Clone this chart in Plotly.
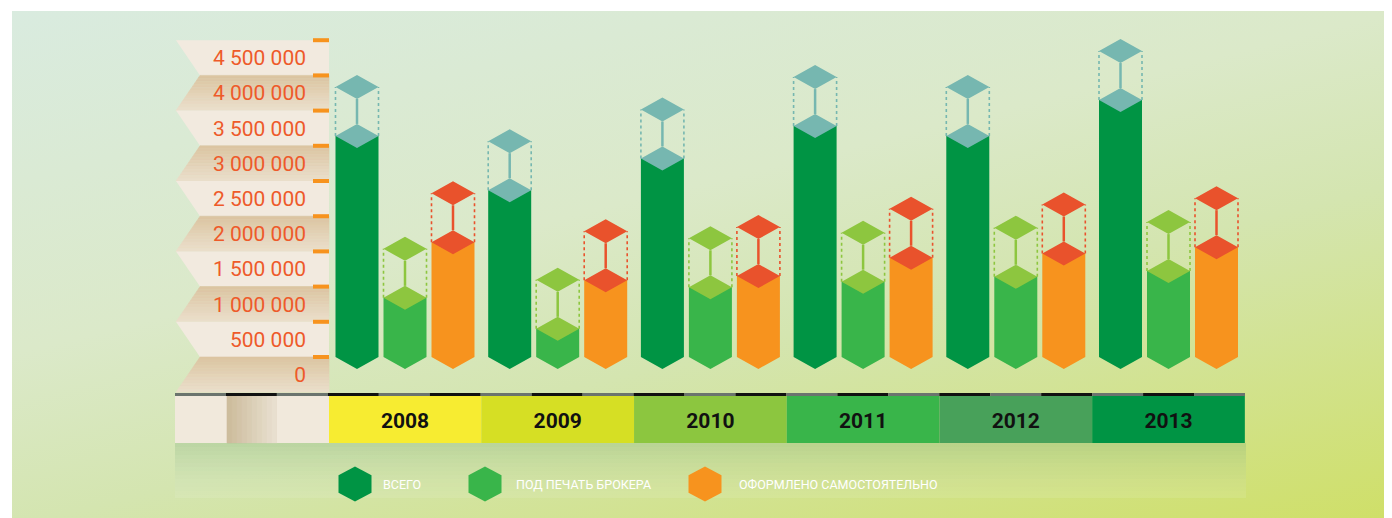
import base64
import plotly.graph_objects as go

# ---------------- data ----------------
years = ["2008", "2009", "2010", "2011", "2012", "2013"]
total = [3140000, 2370000, 2820000, 3280000, 3140000, 3650000]
broker = [840000, 400000, 990000, 1070000, 1140000, 1220000]
self_made = [1630000, 1090000, 1150000, 1410000, 1470000, 1560000]
series_names = ["ВСЕГО", "ПОД ПЕЧАТЬ БРОКЕРА", "ОФОРМЛЕНО САМОСТОЯТЕЛЬНО"]
tick_values = [4500000, 4000000, 3500000, 3000000, 2500000, 2000000, 1500000, 1000000, 500000, 0]
tick_labels = ["4 500 000", "4 000 000", "3 500 000", "3 000 000", "2 500 000",
               "2 000 000", "1 500 000", "1 000 000", "500 000", "0"]
year_colors = ["#f7ec31", "#d6df24", "#8cc63f", "#39b54a", "#48a15a", "#009444"]

# ---------------- geometry / style ----------------
W, H = 1392, 518
OFF = 8                 # page margin of the html body
PX_X = 152.7            # pixels per group
X0 = 405.0 - OFF        # pixel centre of first group (figure px)
Y0 = 357.0 - OFF        # pixel of value 0 (figure px)
PX_V = 70.4 / 1e6       # pixels per value unit
VPP = 1 / PX_V          # value units per pixel

def px2x(px):
    return (px - X0) / PX_X

def X(px):              # screenshot px -> paper
    return (px - OFF) / W

def Y(py):
    return 1 - (py - OFF) / H

def mix(c1, c2, t):
    a = [int(c1[i:i + 2], 16) for i in (1, 3, 5)]
    b = [int(c2[i:i + 2], 16) for i in (1, 3, 5)]
    return "#" + "".join(f"{round(a[k] + (b[k] - a[k]) * t):02x}" for k in range(3))

FONT = "Roboto, Liberation Sans Narrow, DejaVu Sans Condensed, sans-serif"

hw = 21.5 / PX_X          # half bar width (x units)
dd = 12 * VPP             # half diamond height (value units)
gap = 49 * VPP            # ghost cube height
offsets = [-48 / PX_X, 0, 48 / PX_X]
body_colors = ["#009444", "#39b54a", "#f7931e"]
top_colors = ["#76b7b0", "#8dc63f", "#e9522c"]
series = [total, broker, self_made]

fig = go.Figure()

for s, vals in enumerate(series):
    bx, by, dx, dy, lx, ly, cx_, cy_ = [], [], [], [], [], [], [], []
    for i, v in enumerate(vals):
        c = i + offsets[s]
        bx += [c - hw, c + hw, c + hw, c, c - hw, c - hw, None]
        by += [v, v, 0, -dd, 0, v, None]
        for base in (v, v + gap):
            dx += [c - hw, c, c + hw, c, c - hw, None]
            dy += [base, base + dd, base, base - dd, base, None]
        lx += [c - hw, c - hw, None, c + hw, c + hw, None]
        ly += [v, v + gap, None, v, v + gap, None]
        cx_ += [c, c, None]
        cy_ += [v + dd, v + gap - dd, None]
    fig.add_trace(go.Scatter(x=lx, y=ly, mode="lines", showlegend=False, hoverinfo="skip",
                             line=dict(color=top_colors[s], width=1.6, dash="dot")))
    fig.add_trace(go.Scatter(x=cx_, y=cy_, mode="lines", showlegend=False, hoverinfo="skip",
                             line=dict(color=top_colors[s], width=2.5)))
    fig.add_trace(go.Scatter(x=bx, y=by, mode="lines", fill="toself", fillcolor=body_colors[s],
                             line=dict(width=0, color=body_colors[s]), showlegend=False,
                             name=series_names[s], hoverinfo="skip"))
    fig.add_trace(go.Scatter(x=dx, y=dy, mode="lines", fill="toself", fillcolor=top_colors[s],
                             line=dict(width=0, color=top_colors[s]), showlegend=False,
                             hoverinfo="skip"))

shapes = []

# ---------------- axis panel (zig-zag bands) ----------------
band_vals = tick_values + [tick_values[-1] - 500000]
for k in range(len(tick_values)):
    vt, vb = band_vals[k], band_vals[k + 1]
    xl_t = 176 if k % 2 == 0 else 200
    xl_b = 200 if k % 2 == 0 else 176
    if k % 2 == 0:
        path = (f"M {X(xl_t)} {vt} L {X(329)} {vt} L {X(329)} {vb} L {X(xl_b)} {vb} Z")
        shapes.append(dict(type="path", xref="paper", yref="y", path=path,
                           fillcolor="#f2eadf", line=dict(width=0), layer="below"))
    else:
        n = 12
        for j in range(n):
            f0, f1 = j / n, (j + 1) / n
            v0 = vt + (vb - vt) * f0
            v1 = vt + (vb - vt) * f1
            x0 = xl_t + (xl_b - xl_t) * f0
            x1 = xl_t + (xl_b - xl_t) * f1
            col = mix("#dbc4a0", "#ebdfcc", (j + 0.5) / n)
            path = (f"M {X(x0)} {v0} L {X(329)} {v0} L {X(329)} {v1} L {X(x1)} {v1} Z")
            shapes.append(dict(type="path", xref="paper", yref="y", path=path,
                               fillcolor=col, line=dict(width=0.6, color=col), layer="below"))
for v in tick_values:
    shapes.append(dict(type="rect", xref="paper", yref="y", x0=X(313), x1=X(329),
                       y0=v - 2 * VPP, y1=v + 2 * VPP, fillcolor="#f7931e",
                       line=dict(width=0), layer="above"))

# ---------------- year band ----------------
for i, col in enumerate(year_colors):
    shapes.append(dict(type="rect", xref="x", yref="paper", x0=i - 0.5, x1=i + 0.5,
                       y0=Y(443), y1=Y(396), fillcolor=col, line=dict(width=0), layer="below"))
shapes.append(dict(type="rect", xref="paper", yref="paper", x0=X(175), x1=X(227),
                   y0=Y(443), y1=Y(396), fillcolor="#f1e9dc", line=dict(width=0), layer="below"))
n = 10
for j in range(n):
    col = mix("#cbbb9a", "#eae1d2", (j + 0.5) / n)
    shapes.append(dict(type="rect", xref="paper", yref="paper", x0=X(227 + j * 5),
                       x1=X(232 + j * 5), y0=Y(443), y1=Y(396),
                       fillcolor=col, line=dict(width=0.6, color=col), layer="below"))
shapes.append(dict(type="rect", xref="paper", yref="paper", x0=X(277), x1=X(329),
                   y0=Y(443), y1=Y(396), fillcolor="#f1e9dc", line=dict(width=0), layer="below"))
seg = (1245 - 175) / 21
for k in range(21):
    shapes.append(dict(type="rect", xref="paper", yref="paper", x0=X(175 + k * seg),
                       x1=X(175 + (k + 1) * seg), y0=Y(396), y1=Y(393),
                       fillcolor="#6b746e" if k % 2 == 0 else "#111111",
                       line=dict(width=0), layer="below"))
nstr = 14
for k in range(nstr):
    a = 0.22 * (1 - k / nstr) ** 1.6
    shapes.append(dict(type="rect", xref="paper", yref="paper", x0=X(175), x1=X(1246),
                       y0=Y(443 + (k + 1) * 4), y1=Y(443 + k * 4),
                       fillcolor=f"rgba(70,140,60,{a:.3f})", line=dict(width=0), layer="below"))
shapes.append(dict(type="rect", xref="paper", yref="paper", x0=X(175), x1=X(1246),
                   y0=Y(498), y1=Y(443), fillcolor="rgba(255,255,255,0.10)",
                   line=dict(width=0), layer="below"))

# ---------------- legend (hexagons + text) ----------------
annotations = []
leg_cx = [355, 485, 705]
leg_tx = [381, 514, 737]
leg_cy = 484
for k in range(3):
    cx, w, r = leg_cx[k], 16.5, 17.5
    pts = [(cx, leg_cy - r), (cx + w, leg_cy - r / 2), (cx + w, leg_cy + r / 2),
           (cx, leg_cy + r), (cx - w, leg_cy + r / 2), (cx - w, leg_cy - r / 2)]
    path = "M " + " L ".join(f"{X(a)} {Y(b)}" for a, b in pts) + " Z"
    shapes.append(dict(type="path", xref="paper", yref="paper", path=path,
                       fillcolor=body_colors[k], line=dict(width=0)))
    annotations.append(dict(xref="paper", yref="paper", x=X(leg_tx[k]), y=Y(leg_cy),
                            xanchor="left", yanchor="middle", showarrow=False,
                            text=series_names[k],
                            font=dict(family=FONT, size=12.5, color="#ffffff")))

svg = ('<svg xmlns="http://www.w3.org/2000/svg" width="1380" height="507" viewBox="0 0 1380 507" '
       'preserveAspectRatio="none"><defs><linearGradient id="g" gradientUnits="userSpaceOnUse" '
       'x1="0" y1="0" x2="195" y2="797">'
       '<stop offset="0" stop-color="#d9ebdf"/><stop offset="0.4" stop-color="#dbe9c9"/>'
       '<stop offset="0.6" stop-color="#d4e5b0"/><stop offset="1" stop-color="#cfdf66"/>'
       '</linearGradient></defs><rect width="1380" height="507" fill="url(#g)"/></svg>')
src = "data:image/svg+xml;base64," + base64.b64encode(svg.encode()).decode()

fig.update_layout(
    width=W, height=H,
    margin=dict(l=0, r=0, t=0, b=0),
    paper_bgcolor="#ffffff", plot_bgcolor="rgba(0,0,0,0)",
    showlegend=False,
    shapes=shapes, annotations=annotations,
    images=[dict(source=src, xref="paper", yref="paper", x=X(12), y=Y(11),
                 sizex=1 - X(12), sizey=Y(11), xanchor="left", yanchor="top",
                 sizing="stretch", layer="below")],
    xaxis=dict(range=[px2x(0), px2x(W)], showgrid=False, zeroline=False, showline=False,
               tickvals=list(range(len(years))), ticktext=years, ticks="",
               anchor="free", position=Y(406),
               tickfont=dict(family=FONT, size=21, color="#111111", weight="bold")),
    yaxis=dict(range=[(Y0 - H) * VPP, Y0 * VPP], showgrid=False, zeroline=False, showline=False,
               tickvals=[v - 250000 for v in tick_values], ticktext=tick_labels, ticks="",
               anchor="free", position=X(306),
               tickfont=dict(family=FONT, size=21, color="#ee5a2a")),
)

fig.write_html("out.html")
